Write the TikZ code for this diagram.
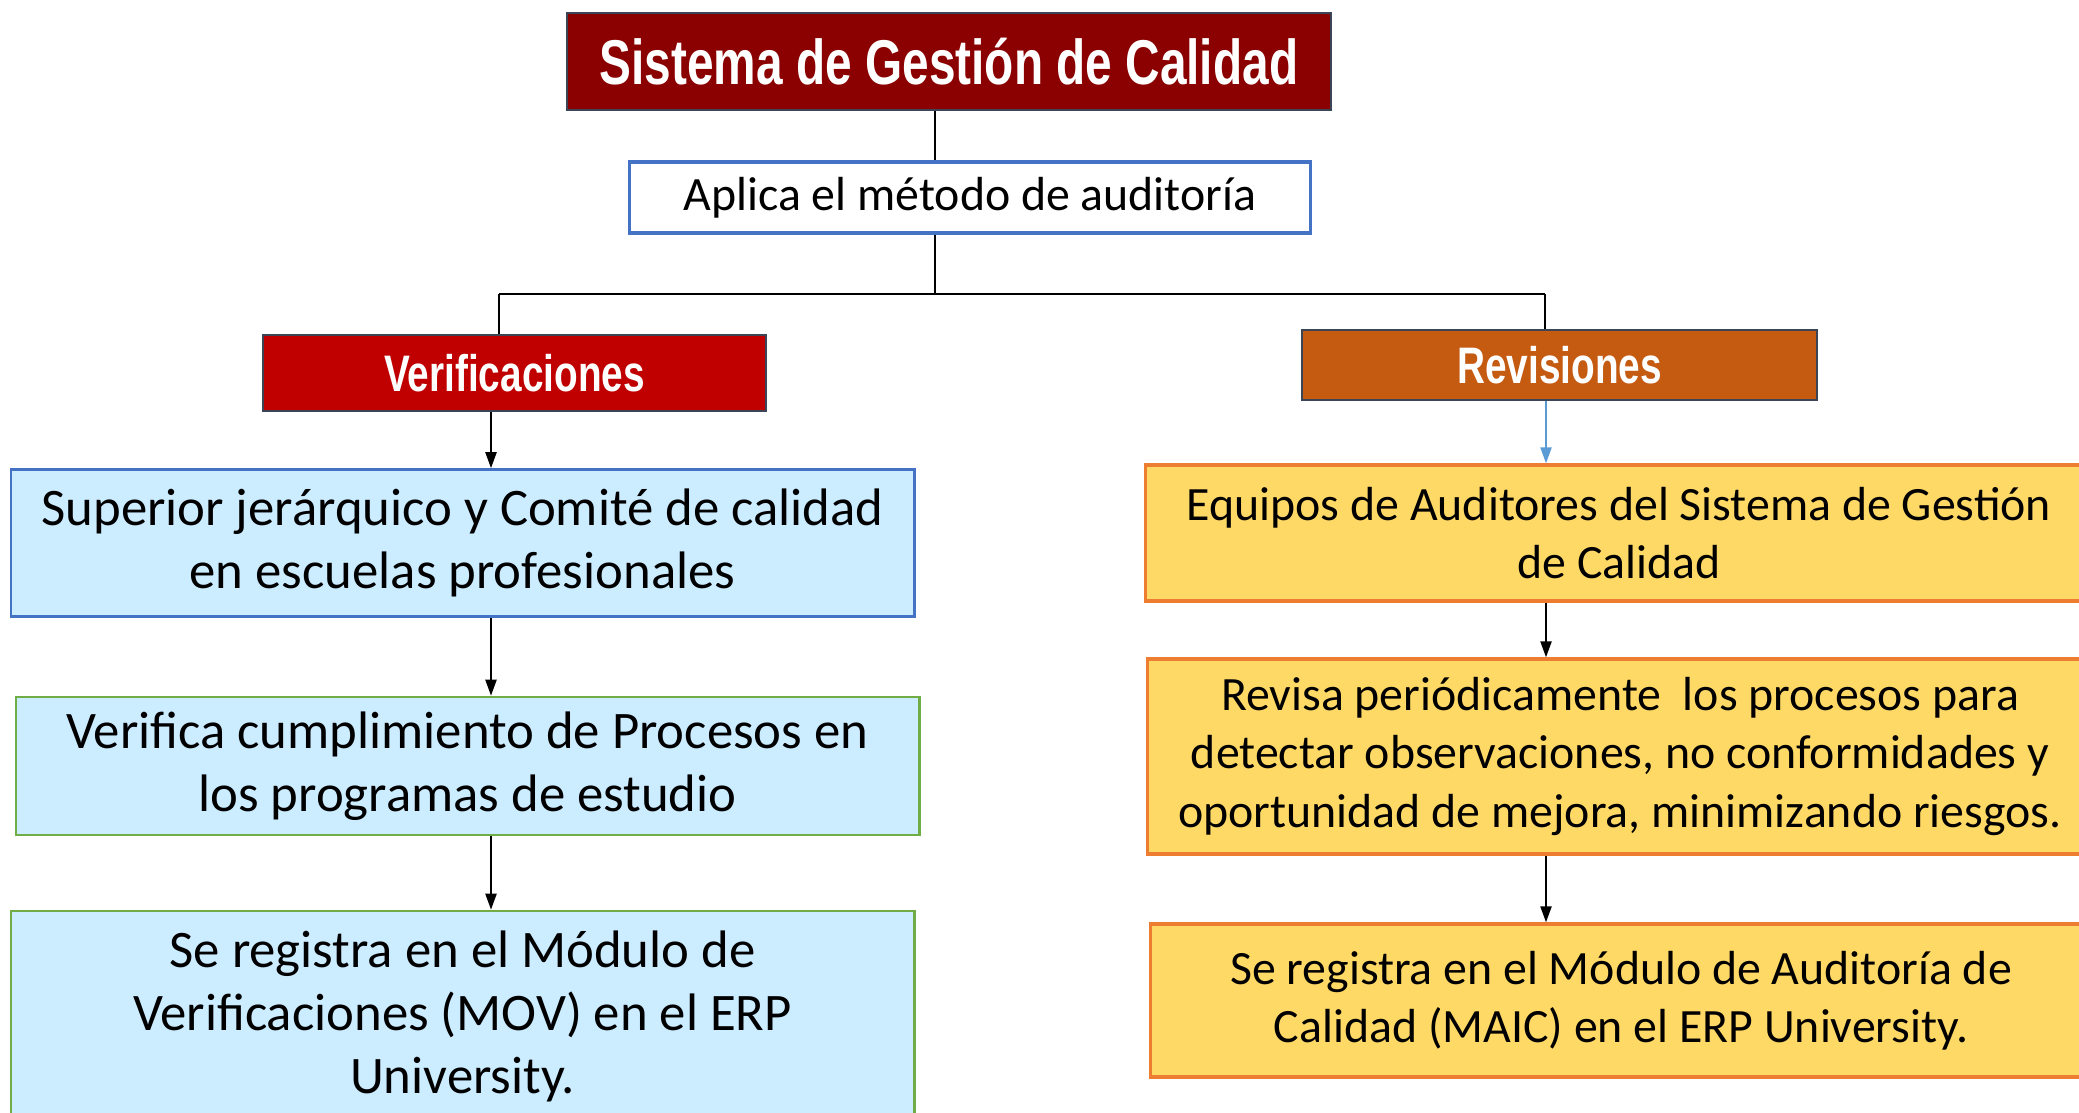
\documentclass[tikz,border=0pt]{standalone}
\usepackage{fontspec}
\setmainfont{Carlito}
\newfontfamily\headfont[FakeStretch=0.755]{Liberation Sans}
\usetikzlibrary{arrows.meta}

\definecolor{titlered}{HTML}{8B0000}
\definecolor{verifred}{HTML}{C00000}
\definecolor{revisorange}{HTML}{C55A11}
\definecolor{headline}{HTML}{3B4556}
\definecolor{boxblue}{HTML}{4472C4}
\definecolor{boxgreen}{HTML}{70AD47}
\definecolor{lightblue}{HTML}{CCECFF}
\definecolor{paleyellow}{HTML}{FFD966}
\definecolor{boxorange}{HTML}{ED7D31}
\definecolor{arrowblue}{HTML}{5B9BD5}

\begin{document}
\begin{tikzpicture}[x=0.01cm, y=-0.01cm, >={Triangle[length=1.6mm,width=1.1mm]},
    headbox/.style={draw=headline, line width=0.7pt, text=white, inner sep=0pt,
        font=\headfont\bfseries\fontsize{14.6}{17}\selectfont},
    leftbox/.style={fill=lightblue, line width=0.7pt, align=center, inner sep=0pt,
        minimum width=9.03cm, font=\fontsize{15}{17.9}\selectfont},
    rightbox/.style={fill=paleyellow, draw=boxorange, line width=0.9pt, align=center,
        inner sep=0pt, font=\fontsize{13.6}{16.5}\selectfont},
    link/.style={line width=0.6pt}]

    % Page frame
    \useasboundingbox (0,0) rectangle (2079,1113);
    \clip (0,0) rectangle (2079,1113);

    % Top of the tree
    \node[headbox, fill=titlered, minimum width=7.64cm, minimum height=0.97cm,
        font=\headfont\bfseries\fontsize{18}{21}\selectfont] (title) at (949,61.5) {Sistema de Gestión de Calidad};
    \node[draw=boxblue, line width=0.9pt, minimum width=6.8cm, minimum height=0.71cm, inner sep=0pt,
        font=\fontsize{13.6}{16.5}\selectfont] (aplica) at (970,197.5) {Aplica el método de auditoría};

    % The two branches
    \node[headbox, fill=verifred, minimum width=5.03cm, minimum height=0.76cm] (verif) at (514.5,373) {Verificaciones};
    \node[headbox, fill=revisorange, minimum width=5.15cm, minimum height=0.70cm] (revis) at (1559.5,365) {Revisiones};

    % Left column
    \node[leftbox, draw=boxblue, minimum height=1.47cm] (superior) at (462.5,543) {Superior jerárquico y Comité de calidad\\en escuelas profesionales};
    \node[leftbox, draw=boxgreen, minimum height=1.38cm] (cumple) at (467.5,766) {Verifica cumplimiento de Procesos en\\los programas de estudio};
    \node[leftbox, draw=boxgreen, minimum height=2.10cm] (mov) at (462.5,1016) {Se registra en el Módulo de\\Verificaciones (MOV) en el ERP\\University.};

    % Right column
    \node[rightbox, minimum width=9.46cm, minimum height=1.36cm] (equipos) at (1619,533) {Equipos de Auditores del Sistema de Gestión\\de Calidad};
    \node[rightbox, minimum width=9.44cm, minimum height=1.95cm] (revisa) at (1620,756.5) {Revisa periódicamente\ \ los procesos para\\detectar observaciones, no conformidades y\\oportunidad de mejora, minimizando riesgos.};
    \node[rightbox, minimum width=9.41cm, minimum height=1.53cm] (maic) at (1621,1000.5) {Se registra en el Módulo de Auditoría de\\Calidad (MAIC) en el ERP University.};

    % Junction points and arrow columns
    \coordinate (trunk) at (935,294);
    \coordinate (jl) at (499,294);
    \coordinate (jr) at (1545,294);
    \coordinate (colL) at (491,0);
    \coordinate (colR) at (1546,0);

    % Tree lines
    \draw [link] (title.south -| trunk) -- (aplica.north -| trunk);
    \draw [link] (aplica.south -| trunk) -- (trunk);
    \draw [link] (jl) -- (jr);
    \draw [link] (jl) -- (verif.north -| jl);
    \draw [link] (jr) -- (revis.north -| jr);

    % Arrows down the columns
    \draw [link, ->] (verif.south -| colL) -- (superior.north -| colL);
    \draw [link, ->] (superior.south -| colL) -- (cumple.north -| colL);
    \draw [link, ->] (cumple.south -| colL) -- (mov.north -| colL);
    \draw [link, ->, arrowblue] (revis.south -| colR) -- (equipos.north -| colR);
    \draw [link, ->] (equipos.south -| colR) -- (revisa.north -| colR);
    \draw [link, ->] (revisa.south -| colR) -- (maic.north -| colR);
\end{tikzpicture}
\end{document}
